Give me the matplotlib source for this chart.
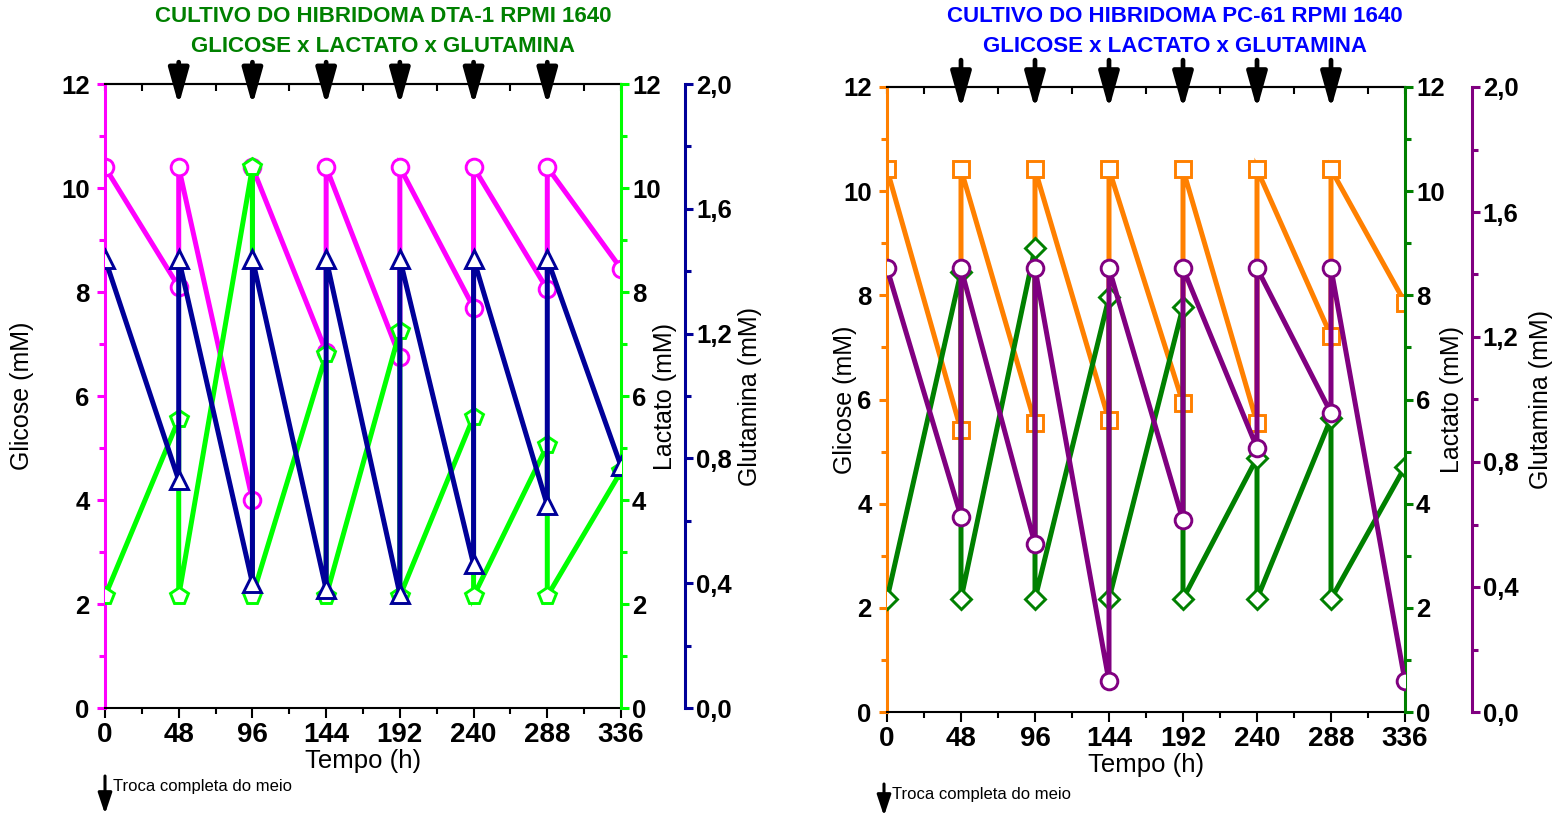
import matplotlib
matplotlib.use("Agg")
import matplotlib.pyplot as plt
from matplotlib.ticker import MultipleLocator, FuncFormatter

# ---------------- data ----------------
tempo = [0, 48, 48, 96, 96, 144, 144, 192, 192, 240, 240, 288, 288, 336]
trocas = [48, 96, 144, 192, 240, 288]
x_ticks = [0, 48, 96, 144, 192, 240, 288, 336]

# DTA-1
glicose_dta = [10.4, 8.1, 10.4, 4.0, 10.4, 6.85, 10.4, 6.75, 10.4, 7.7, 10.4, 8.05, 10.4, 8.45]
lactato_dta = [2.15, 5.55, 2.15, 10.4, 2.15, 6.8, 2.15, 7.25, 2.15, 5.6, 2.15, 5.05, 2.15, 4.55]
glutamina_dta = [1.44, 0.73, 1.44, 0.40, 1.44, 0.38, 1.44, 0.365, 1.44, 0.46, 1.44, 0.65, 1.44, 0.775]

# PC-61
glicose_pc = [10.42, 5.41, 10.42, 5.54, 10.42, 5.60, 10.42, 5.93, 10.42, 5.55, 10.42, 7.22, 10.42, 7.86]
lactato_pc = [2.17, 8.45, 2.17, 8.91, 2.17, 7.96, 2.17, 7.78, 2.17, 4.88, 2.17, 5.64, 2.17, 4.71]
glutamina_pc = [1.42, 0.625, 1.42, 0.537, 1.42, 0.098, 1.42, 0.613, 1.42, 0.845, 1.42, 0.957, 1.42, 0.098]

titulos = [("CULTIVO DO HIBRIDOMA DTA-1 RPMI 1640", "GLICOSE x LACTATO x GLUTAMINA"),
           ("CULTIVO DO HIBRIDOMA PC-61 RPMI 1640", "GLICOSE x LACTATO x GLUTAMINA")]

# ---------------- style ----------------
plt.rcParams['font.family'] = ['Liberation Sans', 'DejaVu Sans']
W, H = 1555, 816
fig = plt.figure(figsize=(W / 100, H / 100), dpi=100)


def fx(px):
    return px / W


def fy(py):
    return 1 - py / H


comma = FuncFormatter(lambda v, p: f"{v:.1f}".replace('.', ','))
intfmt = FuncFormatter(lambda v, p: f"{int(round(v))}")


def panel(box, data, colors, markers, msizes, title, title_color, title_cx,
          lab_pos, outward, arrow_len):
    x0, y0, x1, y1 = box
    ax = fig.add_axes([fx(x0), fy(y1), fx(x1 - x0), fy(y0) - fy(y1)])
    ax2 = ax.twinx()
    ax3 = ax.twinx()
    axes = [ax, ax2, ax3]
    glc, lac, gln = data
    for a, vals, c, m, ms in zip(axes, [glc, lac, gln], colors, markers, msizes):
        a.plot(tempo, vals, color=c, lw=3.6, marker=m, ms=ms, mfc='white',
               mec=c, mew=2.1, solid_joinstyle='miter')
    ax.set_xlim(0, 336)
    ax.set_ylim(0, 12)
    ax2.set_ylim(0, 12)
    ax3.set_ylim(0, 2.0)

    # spines
    for s in ['top', 'bottom']:
        ax.spines[s].set_color('black')
        ax.spines[s].set_linewidth(1.5)
    ax.spines['left'].set_color(colors[0])
    ax.spines['left'].set_linewidth(2.2)
    ax.spines['right'].set_visible(False)
    for a, c in [(ax2, colors[1]), (ax3, colors[2])]:
        for s in ['left', 'top', 'bottom']:
            a.spines[s].set_visible(False)
        a.spines['right'].set_color(c)
        a.spines['right'].set_linewidth(2.2)
    ax3.spines['right'].set_position(('outward', outward))

    # y ticks
    ax.yaxis.set_major_locator(MultipleLocator(2))
    ax.yaxis.set_minor_locator(MultipleLocator(1))
    ax2.yaxis.set_major_locator(MultipleLocator(2))
    ax2.yaxis.set_minor_locator(MultipleLocator(1))
    ax3.yaxis.set_major_locator(MultipleLocator(0.4))
    ax3.yaxis.set_minor_locator(MultipleLocator(0.2))
    ax.yaxis.set_major_formatter(intfmt)
    ax2.yaxis.set_major_formatter(intfmt)
    ax3.yaxis.set_major_formatter(comma)
    for a, c in zip(axes, colors):
        a.tick_params(axis='y', which='major', direction='out', length=6, width=2.2,
                      color=c, labelsize=18.5, pad=2)
        a.tick_params(axis='y', which='minor', direction='out', length=4, width=2.2, color=c)
        for lbl in a.get_yticklabels():
            lbl.set_fontweight('bold')
    ax.tick_params(axis='y', which='major', pad=5)

    # x ticks
    ax.set_xticks(x_ticks)
    ax.xaxis.set_minor_locator(MultipleLocator(24))
    ax.tick_params(axis='x', which='major', direction='out', length=7, width=1.5,
                   labelsize=20, pad=3)
    ax.tick_params(axis='x', which='minor', direction='out', length=4, width=1.5)
    for lbl in ax.get_xticklabels():
        lbl.set_fontweight('bold')
    sec = ax.secondary_xaxis('top')
    sec.set_xticks(x_ticks)
    sec.xaxis.set_minor_locator(MultipleLocator(24))
    sec.tick_params(axis='x', which='both', direction='in', length=5, width=1.5,
                    labeltop=False)
    sec.spines['top'].set_linewidth(1.5)

    # labels
    ax.set_xlabel("Tempo (h)", fontsize=18.5, labelpad=1)
    ax.set_ylabel("Glicose (mM)", fontsize=18, va='center')
    ax2.set_ylabel("Lactato (mM)", fontsize=18, va='center')
    ax3.set_ylabel("Glutamina (mM)", fontsize=18, va='center')
    ax.yaxis.set_label_coords(lab_pos[0], 0.5)
    ax2.yaxis.set_label_coords(lab_pos[1], 0.5)
    ax3.yaxis.set_label_coords(lab_pos[2], 0.5)

    # medium exchange arrows
    for t in trocas:
        ax3.annotate('', xy=(t, 1 - arrow_len[1]), xytext=(t, 1 + arrow_len[0]),
                     xycoords=('data', 'axes fraction'),
                     textcoords=('data', 'axes fraction'),
                     arrowprops=dict(arrowstyle='-|>,head_length=1.0,head_width=0.28',
                                     lw=3.4, color='black', mutation_scale=22,
                                     shrinkA=0, shrinkB=0),
                     annotation_clip=False)

    # title
    fig.text(fx(title_cx), fy(17), title[0], color=title_color, fontsize=16,
             fontweight='bold', ha='center', va='center')
    fig.text(fx(title_cx), fy(46), title[1], color=title_color, fontsize=16,
             fontweight='bold', ha='center', va='center')
    return ax


panel((105, 84, 621, 708), (glicose_dta, lactato_dta, glutamina_dta),
      ['#ff00ff', '#00ff00', '#000099'], ['o', 'p', '^'], [12, 13, 13],
      titulos[0], '#008000', 383, (-0.16, 1.085, 1.25), 46, (0.035, 0.034))

panel((887, 87, 1405, 712), (glicose_pc, lactato_pc, glutamina_pc),
      ['#ff8000', '#008000', '#800080'], ['s', 'D', 'o'], [11, 10, 12],
      titulos[1], '#0000ff', 1175, (-0.081, 1.091, 1.262), 48, (0.043, 0.035))

# footnotes
for ax_x, y_top, y_bot, y_txt in [(105, 776, 814, 786), (884, 784, 816, 795)]:
    fig.add_artist(matplotlib.patches.FancyArrowPatch(
        (fx(ax_x), fy(y_top)), (fx(ax_x), fy(y_bot)), transform=fig.transFigure,
        arrowstyle='-|>,head_length=0.9,head_width=0.3', mutation_scale=14,
        lw=2.2, color='black', shrinkA=0, shrinkB=0))
    fig.text(fx(ax_x + 8), fy(y_txt), "Troca completa do meio", fontsize=12,
             ha='left', va='center')

fig.savefig("out.png", dpi=100)
